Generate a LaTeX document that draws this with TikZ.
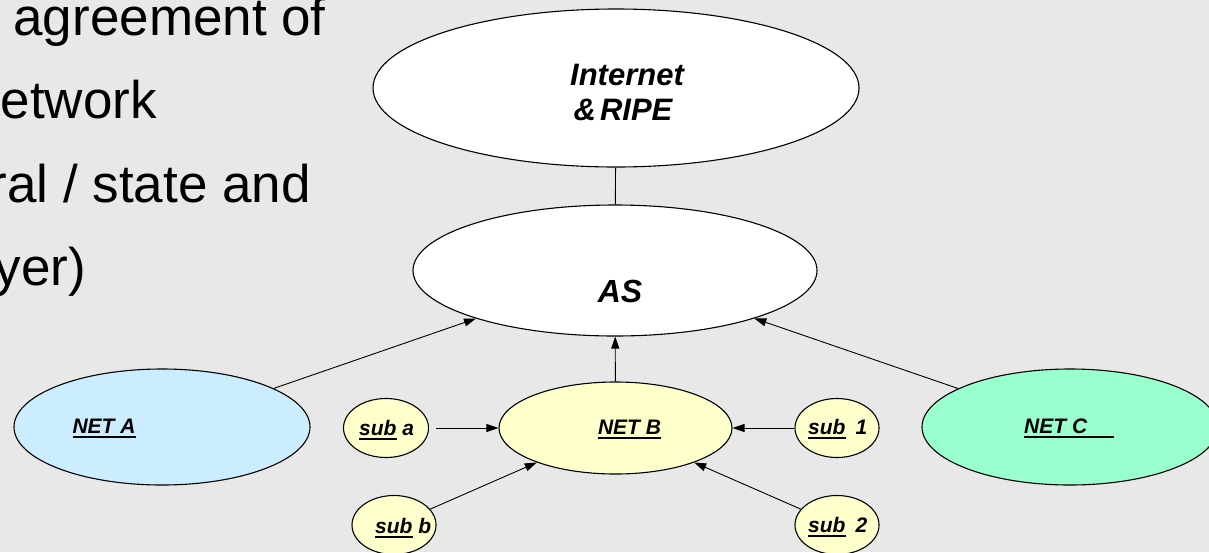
\documentclass[tikz,border=0pt]{standalone}
\usepackage{fontspec}
\setmainfont{Liberation Sans}
\usetikzlibrary{shapes.geometric,arrows.meta}
\definecolor{bg}{HTML}{E8E8E8}
\definecolor{netAfill}{HTML}{CCECFF}
\definecolor{netBfill}{HTML}{FFFFCC}
\definecolor{netCfill}{HTML}{99FFCC}
\newcommand\myul[1]{\setbox0=\hbox{#1}\rlap{\rule[-5pt]{\wd0}{1.9pt}}\box0\relax}
\tikzset{
  oval/.style={ellipse, draw=black, line width=1.1pt, inner sep=0pt},
  lbl/.style={font=\fontsize{21}{25}\selectfont\bfseries\itshape, inner sep=0pt, anchor=base},
  bigtxt/.style={font=\fontsize{53}{60}\selectfont, inner sep=0pt, anchor=base east},
  conn/.style={line width=0.9pt, draw=black},
  arr/.style={conn, -{Triangle[length=12pt,width=8pt]}}
}
\begin{document}
\begin{tikzpicture}[x=1pt,y=-1pt]
\fill[bg] (0,0) rectangle (1209,552);
\useasboundingbox (0,0) rectangle (1209,552);

% left text (cut off at the left edge)
\node[bigtxt] (t1) at (326,35) {agreement of};
\node[bigtxt] (t2) at (157,118) {etwork};
\node[bigtxt] (t3) at (311,202) {ral / state and};
\node[bigtxt] (t4) at (86,285) {yer)};

% ellipses
\node[oval, fill=white, minimum width=486pt, minimum height=158pt] (inet) at (616,88) {};
\node[oval, fill=white, minimum width=404pt, minimum height=131pt] (as) at (615,270.5) {};
\node[oval, fill=netAfill, minimum width=296pt, minimum height=116pt] (neta) at (162,427) {};
\node[oval, fill=netBfill, minimum width=233pt, minimum height=92pt] (netb) at (615.5,428) {};
\node[oval, fill=netCfill, minimum width=296pt, minimum height=116pt] (netc) at (1070,427) {};
\node[oval, fill=netBfill, minimum width=85pt, minimum height=59pt] (suba) at (386,428) {};
\node[oval, fill=netBfill, minimum width=84pt, minimum height=59pt] (subone) at (837,428) {};
\node[oval, fill=netBfill, minimum width=84pt, minimum height=59pt] (subb) at (394,525) {};
\node[oval, fill=netBfill, minimum width=84pt, minimum height=59pt] (subtwo) at (837,525) {};

% labels
\node[lbl, font=\fontsize{31}{35}\selectfont\bfseries\itshape] (linet) at (627,85) {Internet};
\node[lbl, font=\fontsize{31}{35}\selectfont\bfseries\itshape] (lripe) at (623,120) {\&\hspace{4pt}RIPE};
\node[lbl, font=\fontsize{32}{36}\selectfont\bfseries\itshape] (las) at (620,302) {AS};
\node[lbl] (lneta) at (104,433) {\myul{NET A}};
\node[lbl] (lnetb) at (629.5,434) {\myul{NET B}};
\node[lbl, anchor=base west] (lnetc) at (1024,433) {\myul{NET C\hspace{27pt}}};
\node[lbl, anchor=base west] (lsuba) at (359,435) {\myul{sub} a};
\node[lbl, anchor=base west] (lsubb) at (375,533) {\myul{sub} b};
\node[lbl, anchor=base west] (lsubone) at (808,434) {\myul{sub}\hspace{10pt}1};
\node[lbl, anchor=base west] (lsubtwo) at (808,532) {\myul{sub}\hspace{10pt}2};

% connectors
\draw[conn] (inet) -- (as);
\draw[arr] (netb) -- (as);
\draw[arr] (neta) -- (as);
\draw[arr] (netc) -- (as);
\draw[arr, shorten <=7pt] (suba.east) -- (netb.west);
\draw[arr] (subone.west) -- (netb.east);
\draw[arr] (subb) -- (netb);
\draw[arr] (subtwo) -- (netb);
\end{tikzpicture}
\end{document}
